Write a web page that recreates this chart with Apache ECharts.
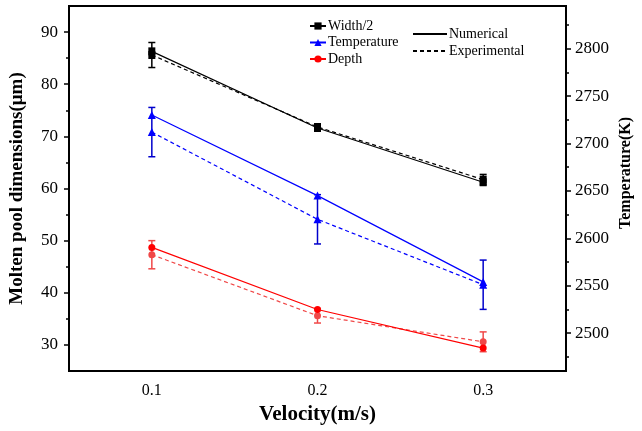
<!DOCTYPE html>
<html>
<head>
<meta charset="utf-8">
<script src="https://cdn.jsdelivr.net/npm/echarts@6/dist/echarts.min.js"></script>
<style>html,body{margin:0;padding:0;background:#fff}#c{width:642px;height:431px}</style>
</head>
<body>
<div id="c"></div>
<script>
const velocity = ['0.1', '0.2', '0.3'];
const widthNum = [86.3, 71.6, 61.2];
const widthExp = [85.6, 71.8, 61.7];
const widthErr = [2.4, 0.5, 1.0];
const tempNum = [2730, 2645, 2554];
const tempExp = [2712, 2620, 2551];
const tempErr = [26, 26, 26];
const depthNum = [48.7, 36.8, 29.4];
const depthExp = [47.3, 35.6, 30.6];
const depthErr = [2.7, 1.4, 1.9];
const leftTicks = [30, 40, 50, 60, 70, 80, 90];
const leftMinor = [35, 45, 55, 65, 75, 85];
const rightTicks = [2500, 2550, 2600, 2650, 2700, 2750, 2800];
const rightMinor = [2475, 2525, 2575, 2625, 2675, 2725, 2775, 2825];

const FONT = '"Liberation Serif", "Times New Roman", serif';
const BLACK = '#000000', BLUE = '#0000ff', BLUE_EB = '#0000cc', RED = '#ff0000', RED_L = '#f04848';

function errData(vals, errs) {
  return vals.map((v, i) => [i, v - errs[i], v + errs[i]]);
}
function errRender(color) {
  return function (params, api) {
    const i = api.value(0);
    const lo = api.coord([i, api.value(1)]);
    const hi = api.coord([i, api.value(2)]);
    const w = 3.5;
    const st = { stroke: color, lineWidth: 1.5 };
    return {
      type: 'group',
      children: [
        { type: 'line', shape: { x1: lo[0], y1: lo[1], x2: hi[0], y2: hi[1] }, style: st },
        { type: 'line', shape: { x1: lo[0] - w, y1: lo[1], x2: lo[0] + w, y2: lo[1] }, style: st },
        { type: 'line', shape: { x1: hi[0] - w, y1: hi[1], x2: hi[0] + w, y2: hi[1] }, style: st }
      ]
    };
  };
}
function lineSeries(name, data, yIdx, color, dashed, symbol, size) {
  return {
    name: name, type: 'line', data: data, yAxisIndex: yIdx,
    symbol: symbol, symbolSize: size, z: dashed ? 3 : 4,
    itemStyle: { color: color },
    lineStyle: { color: color, width: 1.2, type: dashed ? [4, 3] : 'solid' },
    animation: false
  };
}
function errSeries(vals, errs, yIdx, color) {
  return {
    type: 'custom', yAxisIndex: yIdx, data: errData(vals, errs),
    renderItem: errRender(color), z: 2, animation: false, silent: true
  };
}
const plain = v => String(v);

const chart = echarts.init(document.getElementById('c'), null, { renderer: 'canvas' });
chart.setOption({
  animation: false,
  textStyle: { fontFamily: FONT, color: BLACK },
  grid: { left: 69, right: 76, top: 6, bottom: 60, show: true, borderColor: BLACK, borderWidth: 2 },
  legend: [
    {
      data: ['Width/2', 'Temperature', 'Depth'], orient: 'vertical', padding: 0,
      left: 309, top: 19, itemWidth: 16, itemHeight: 9, itemGap: 2.5,
      textStyle: { fontFamily: FONT, fontSize: 14, color: BLACK, padding: [0, 0, 0, -3] },
      selectedMode: false
    },
    {
      data: [
        { name: 'Numerical', itemStyle: { opacity: 0 } },
        { name: 'Experimental', itemStyle: { opacity: 0 } }
      ],
      orient: 'vertical', padding: 0,
      left: 412, top: 27, itemWidth: 34, itemHeight: 9, itemGap: 3,
      textStyle: { fontFamily: FONT, fontSize: 14, color: BLACK, padding: [0, 0, 0, -3] },
      selectedMode: false
    }
  ],
  xAxis: {
    type: 'category', data: velocity, boundaryGap: true,
    name: 'Velocity(m/s)', nameLocation: 'middle', nameGap: 29,
    nameTextStyle: { fontFamily: FONT, fontWeight: 'bold', fontSize: 21, color: BLACK },
    axisLine: { lineStyle: { color: BLACK, width: 2 } },
    axisTick: { alignWithLabel: true, length: 5, lineStyle: { color: BLACK, width: 1.5 } },
    axisLabel: { fontFamily: FONT, fontSize: 16, color: BLACK, margin: 12 },
    splitLine: { show: false }
  },
  yAxis: [
    {
      type: 'value', min: 25, max: 95, position: 'left',
      name: 'Molten pool dimensions(μm)', nameLocation: 'middle', nameGap: 42, nameRotate: 90,
      nameTextStyle: { fontFamily: FONT, fontWeight: 'bold', fontSize: 19, color: BLACK },
      axisLine: { show: true, lineStyle: { color: BLACK, width: 2 } },
      axisTick: { show: true, length: 5, customValues: leftTicks, lineStyle: { color: BLACK, width: 1.5 } },
      axisLabel: { fontFamily: FONT, fontSize: 17, color: BLACK, margin: 11, customValues: leftTicks, formatter: plain },
      splitLine: { show: false }
    },
    {
      type: 'value', min: 2460, max: 2845, position: 'right',
      axisLine: { show: true, lineStyle: { color: BLACK, width: 2 } },
      axisTick: { show: true, length: 5, customValues: rightTicks, lineStyle: { color: BLACK, width: 1.5 } },
      axisLabel: { fontFamily: FONT, fontSize: 17, color: BLACK, margin: 9, customValues: rightTicks, formatter: plain },
      splitLine: { show: false }
    },
    {
      type: 'value', min: 25, max: 95, position: 'left',
      axisLine: { show: false },
      axisTick: { show: true, length: 3, customValues: leftMinor, lineStyle: { color: BLACK, width: 1.5 } },
      axisLabel: { show: false },
      splitLine: { show: false }
    },
    {
      type: 'value', min: 2460, max: 2845, position: 'right',
      axisLine: { show: false },
      axisTick: { show: true, length: 3, customValues: rightMinor, lineStyle: { color: BLACK, width: 1.5 } },
      axisLabel: { show: false },
      splitLine: { show: false }
    }
  ],
  graphic: [
    {
      type: 'text', x: 626, y: 173, rotation: Math.PI / 2,
      style: { text: 'Temperature(K)', font: 'bold 16px ' + FONT, fill: BLACK, align: 'center', verticalAlign: 'middle' }
    }
  ],
  series: [
    errSeries(widthExp, widthErr, 0, BLACK),
    errSeries(tempExp, tempErr, 1, BLUE_EB),
    errSeries(depthExp, depthErr, 0, RED_L),
    lineSeries('Width/2', widthNum, 0, BLACK, false, 'rect', [7, 8]),
    lineSeries('Width/2', widthExp, 0, BLACK, true, 'rect', [7, 8]),
    lineSeries('Temperature', tempNum, 1, BLUE, false, 'triangle', 8),
    lineSeries('Temperature', tempExp, 1, BLUE, true, 'triangle', 8),
    lineSeries('Depth', depthNum, 0, RED, false, 'circle', 7),
    lineSeries('Depth', depthExp, 0, RED_L, true, 'circle', 7),
    { name: 'Numerical', type: 'line', data: [], symbol: 'none', symbolSize: 0, lineStyle: { color: BLACK, width: 1.2, type: 'solid' }, itemStyle: { color: BLACK, opacity: 0 } },
    { name: 'Experimental', type: 'line', data: [], symbol: 'none', symbolSize: 0, lineStyle: { color: BLACK, width: 1.2, type: [4, 3] }, itemStyle: { color: BLACK, opacity: 0 } }
  ]
});
</script>
</body>
</html>
